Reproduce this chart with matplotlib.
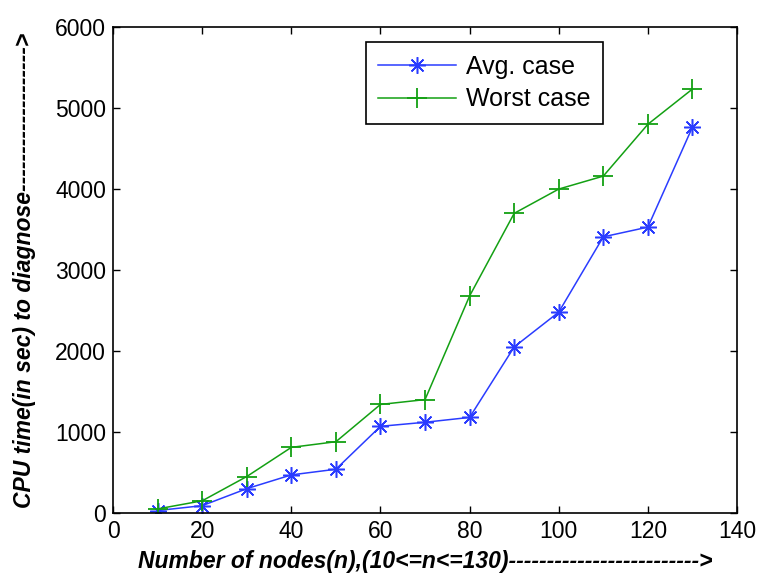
import matplotlib
matplotlib.use("Agg")
import matplotlib.pyplot as plt

# Data
nodes = [10, 20, 30, 40, 50, 60, 70, 80, 90, 100, 110, 120, 130]
avg_case = [30, 90, 300, 470, 540, 1070, 1120, 1180, 2050, 2480, 3410, 3530, 4765]
worst_case = [50, 150, 450, 810, 880, 1340, 1400, 2680, 3700, 4000, 4160, 4800, 5235]

plt.rcParams['font.family'] = ['Liberation Sans', 'DejaVu Sans']

fig = plt.figure(figsize=(7.59, 5.77), dpi=100)
ax = fig.add_axes([0.149, 0.111, 0.822, 0.842])

# asterisk marker like matlab '*'
ax.plot(nodes, avg_case, color='#2a3cff', marker=(8, 2, 0), markersize=12, linewidth=1.1,
        markeredgewidth=1.1, label='Avg. case')
ax.plot(nodes, worst_case, color='#13a013', marker='+', markersize=15, linewidth=1.1,
        markeredgewidth=1.3, label='Worst case')

ax.set_xlim(0, 140)
ax.set_ylim(0, 6000)
ax.set_xticks(range(0, 141, 20))
ax.set_yticks(range(0, 6001, 1000))
ax.tick_params(direction='in', top=True, right=True, labelsize=16.5, length=5, width=1, pad=5)
for s in ax.spines.values():
    s.set_linewidth(1.2)

ax.set_xlabel('Number of nodes(n),(10<=n<=130)' + '-' * 25 + '>',
              fontsize=16.5, fontweight='bold', style='italic', labelpad=5)
ax.set_ylabel('CPU time(in sec) to diagnose' + '-' * 19 + '>',
              fontsize=16.5, fontweight='bold', style='italic', labelpad=14)

leg = ax.legend(loc='upper left', bbox_to_anchor=(0.405, 0.969), fontsize=18,
                fancybox=False, edgecolor='black', framealpha=1,
                handlelength=3.1, handletextpad=0.4, borderpad=0.5, labelspacing=0.35,
                borderaxespad=0)
leg.get_frame().set_linewidth(1.2)

fig.savefig('out.png', dpi=100)
